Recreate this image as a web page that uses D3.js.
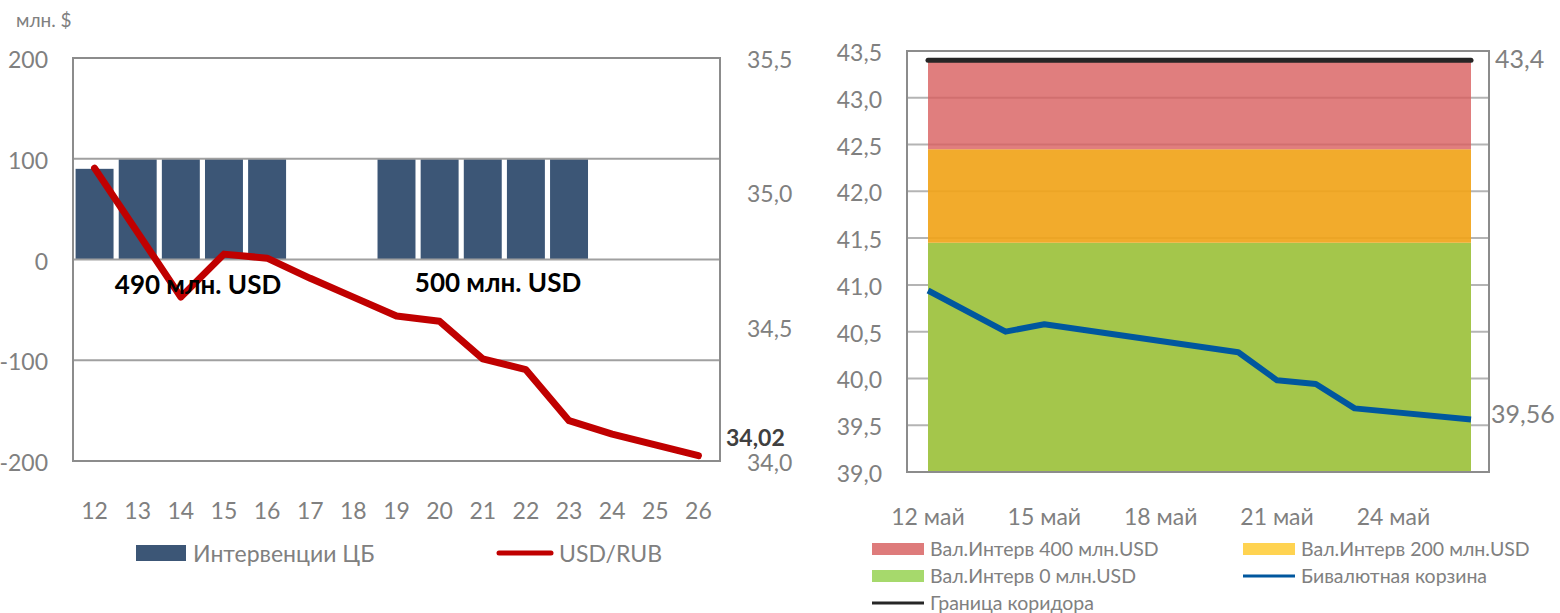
<!DOCTYPE html>
<html>
<head>
<meta charset="utf-8">
<script src="https://cdn.jsdelivr.net/npm/d3@7"></script>
<style>
  body { margin: 0; background: #fff; }
  svg { display: block; font-family: Lato, "Open Sans", "Noto Sans", sans-serif; }
</style>
</head>
<body>
<script>
// ---- left chart data (May 2014) ----
const days = ["12","13","14","15","16","17","18","19","20","21","22","23","24","25","26"];
const interventions = [90, 100, 100, 100, 100, 0, 0, 100, 100, 100, 100, 100, 0, 0, 0];
const usdRub = [35.09, 34.85, 34.61, 34.77, 34.755, 34.68, 34.61, 34.54, 34.52, 34.38, 34.34, 34.15, 34.10, 34.06, 34.02];
const leftTicks = [-200, -100, 0, 100, 200];
const rightTicks = [34.0, 34.5, 35.0, 35.5];

// ---- right chart data ----
const corridorDates = ["2014-05-12", "2014-05-26"];
const zone0 = [41.45, 41.45];
const zone200 = [42.45, 42.45];
const zone400 = [43.4, 43.4];
const border = [43.4, 43.4];
const basketDates = ["2014-05-12", "2014-05-14", "2014-05-15", "2014-05-20", "2014-05-21", "2014-05-22", "2014-05-23", "2014-05-26"];
const basket = [40.94, 40.50, 40.58, 40.28, 39.98, 39.94, 39.68, 39.56];
const basketTicks = [39.0, 39.5, 40.0, 40.5, 41.0, 41.5, 42.0, 42.5, 43.0, 43.5];
const dateTicks = ["2014-05-12", "2014-05-15", "2014-05-18", "2014-05-21", "2014-05-24"];

const parse = d3.timeParse("%Y-%m-%d");
const ru = d3.formatLocale({decimal: ",", thousands: " ", grouping: [3], currency: ["", ""], minus: "-"});
const f1 = ru.format(".1f"), f2 = ru.format(".2f");

const grey = "#808080";
const svg = d3.select("body").append("svg").attr("width", 1560).attr("height", 613);

// ================= left chart =================
const L = {x0: 73, x1: 720, y0: 58, y1: 461};
const xb = d3.scaleBand().domain(days).range([L.x0, L.x1]).paddingInner(0.12).paddingOuter(0.06);
const yl = d3.scaleLinear().domain([-200, 200]).range([L.y1, L.y0]);
const yr = d3.scaleLinear().domain([34.0, 35.5]).range([L.y1, L.y0]);

const left = svg.append("g");

left.append("text").attr("x", 16).attr("y", 27).attr("fill", grey).attr("font-size", 19).text("млн. $");

// bars
left.append("g").selectAll("rect")
  .data(days.map((d, i) => ({d, v: interventions[i]})).filter(o => o.v > 0))
  .join("rect")
    .attr("x", o => xb(o.d))
    .attr("width", xb.bandwidth())
    .attr("y", o => yl(o.v))
    .attr("height", o => yl(0) - yl(o.v))
    .attr("fill", "#3c5676");

// gridlines + frame
left.append("g").selectAll("line")
  .data(leftTicks)
  .join("line")
    .attr("x1", L.x0).attr("x2", L.x1)
    .attr("y1", d => yl(d)).attr("y2", d => yl(d))
    .attr("stroke", "#a0a0a0").attr("stroke-width", 2);
left.append("rect").attr("x", L.x0).attr("y", L.y0).attr("width", L.x1 - L.x0).attr("height", L.y1 - L.y0)
  .attr("fill", "none").attr("stroke", "#8c8c8c").attr("stroke-width", 2);

// axis labels
left.append("g").selectAll("text")
  .data(leftTicks)
  .join("text")
    .attr("x", 48).attr("y", d => yl(d) + 2).attr("dy", "0.35em")
    .attr("text-anchor", "end").attr("fill", grey).attr("font-size", 23)
    .text(d => ru.format("d")(d));
left.append("g").selectAll("text")
  .data(rightTicks)
  .join("text")
    .attr("x", 747).attr("y", d => yr(d) + 2).attr("dy", "0.35em")
    .attr("fill", grey).attr("font-size", 23)
    .text(d => f1(d));
left.append("g").selectAll("text")
  .data(days)
  .join("text")
    .attr("x", d => xb(d) + xb.bandwidth() / 2).attr("y", 511).attr("dy", "0.35em")
    .attr("text-anchor", "middle").attr("fill", grey).attr("font-size", 23)
    .text(d => d);

// USD/RUB line
const lineL = d3.line().x((d, i) => xb(days[i]) + xb.bandwidth() / 2).y(d => yr(d));
left.append("path").datum(usdRub)
  .attr("d", lineL).attr("fill", "none").attr("stroke", "#c00000")
  .attr("stroke-width", 7).attr("stroke-linejoin", "round").attr("stroke-linecap", "round");

// annotations
left.append("text").attr("x", 198).attr("y", 285).attr("dy", "0.35em").attr("text-anchor", "middle")
  .attr("font-size", 26).attr("font-weight", "bold").attr("fill", "#000").text("490 млн. USD");
left.append("text").attr("x", 498).attr("y", 283).attr("dy", "0.35em").attr("text-anchor", "middle")
  .attr("font-size", 26).attr("font-weight", "bold").attr("fill", "#000").text("500 млн. USD");
left.append("text").attr("x", 726).attr("y", 438).attr("dy", "0.35em")
  .attr("font-size", 23).attr("font-weight", "bold").attr("fill", "#404040").text(f2(usdRub[usdRub.length - 1]));

// legend
left.append("rect").attr("x", 136).attr("y", 545).attr("width", 50).attr("height", 16).attr("fill", "#3c5676");
left.append("text").attr("x", 193).attr("y", 554).attr("dy", "0.35em").attr("fill", grey).attr("font-size", 23).text("Интервенции ЦБ");
left.append("line").attr("x1", 499).attr("x2", 551).attr("y1", 553).attr("y2", 553)
  .attr("stroke", "#c00000").attr("stroke-width", 5).attr("stroke-linecap", "round");
left.append("text").attr("x", 559).attr("y", 554).attr("dy", "0.35em").attr("fill", grey).attr("font-size", 23).text("USD/RUB");

// ================= right chart =================
const R = {x0: 907, x1: 1489, y0: 51, y1: 472};
const xt = d3.scaleTime().domain([parse(corridorDates[0]), parse(corridorDates[1])]).range([928, 1471]);
const yb = d3.scaleLinear().domain([39.0, 43.5]).range([R.y1, R.y0]);

const right = svg.append("g");
const cDates = corridorDates.map(parse);

// gridlines under the (partly see-through) zones
right.append("g").selectAll("line")
  .data(basketTicks.slice(1, -1))
  .join("line")
    .attr("x1", R.x0).attr("x2", R.x1)
    .attr("y1", d => yb(d)).attr("y2", d => yb(d))
    .attr("stroke", "#b4b4b4").attr("stroke-width", 2);

const band = (lo, hi, color, op) => right.append("path")
  .datum(cDates.map((d, i) => ({d, lo: lo ? lo[i] : 39.0, hi: hi[i]})))
  .attr("d", d3.area().x(o => xt(o.d)).y0(o => yb(o.lo)).y1(o => yb(o.hi)))
  .attr("fill", color).attr("fill-opacity", op);
band(null, zone0, "#a4c64b", 1);
band(zone0, zone200, "#f1a41a", 0.92);
band(zone200, zone400, "#d85e5e", 0.8);

right.append("rect").attr("x", R.x0).attr("y", R.y0).attr("width", R.x1 - R.x0).attr("height", R.y1 - R.y0)
  .attr("fill", "none").attr("stroke", "#8c8c8c").attr("stroke-width", 2);

// corridor border line
right.append("path").datum(cDates.map((d, i) => ({d, v: border[i]})))
  .attr("d", d3.line().x(o => xt(o.d)).y(o => yb(o.v)))
  .attr("stroke", "#262626").attr("stroke-width", 5).attr("stroke-linecap", "round").attr("fill", "none");

// basket line
right.append("path").datum(basketDates.map((d, i) => ({d: parse(d), v: basket[i]})))
  .attr("d", d3.line().x(o => xt(o.d)).y(o => yb(o.v)))
  .attr("stroke", "#00579e").attr("stroke-width", 6).attr("stroke-linejoin", "round").attr("fill", "none");

// axis labels
right.append("g").selectAll("text")
  .data(basketTicks)
  .join("text")
    .attr("x", 882).attr("y", d => yb(d) + 2).attr("dy", "0.35em")
    .attr("text-anchor", "end").attr("fill", grey).attr("font-size", 23)
    .text(d => f1(d));
right.append("g").selectAll("text")
  .data(dateTicks)
  .join("text")
    .attr("x", d => xt(parse(d))).attr("y", 517).attr("dy", "0.35em")
    .attr("text-anchor", "middle").attr("fill", grey).attr("font-size", 23)
    .text(d => parse(d).getDate() + " май");

right.append("text").attr("x", 1495).attr("y", 59).attr("dy", "0.35em").attr("fill", grey).attr("font-size", 25)
  .text(f1(border[border.length - 1]));
right.append("text").attr("x", 1491).attr("y", 414).attr("dy", "0.35em").attr("fill", grey).attr("font-size", 25)
  .text(f2(basket[basket.length - 1]));

// legend
const leg = [
  {x: 872, y: 549, type: "rect", color: "#de7b7b", label: "Вал.Интерв 400 млн.USD"},
  {x: 1243, y: 549, type: "rect", color: "#ffd351", label: "Вал.Интерв 200 млн.USD"},
  {x: 872, y: 576, type: "rect", color: "#a6d96c", label: "Вал.Интерв 0 млн.USD"},
  {x: 1243, y: 576, type: "line", color: "#00579e", label: "Бивалютная корзина"},
  {x: 872, y: 603, type: "line", color: "#262626", label: "Граница коридора"}
];
const lg = right.append("g").selectAll("g").data(leg).join("g")
  .attr("transform", o => `translate(${o.x},${o.y})`);
lg.filter(o => o.type === "rect").append("rect")
  .attr("y", -6).attr("width", 52).attr("height", 12).attr("fill", o => o.color);
lg.filter(o => o.type === "line").append("line")
  .attr("x2", 52).attr("stroke", o => o.color).attr("stroke-width", 3);
lg.append("text").attr("x", 58).attr("dy", "0.35em").attr("fill", grey).attr("font-size", 19.5)
  .text(o => o.label);
</script>
</body>
</html>
